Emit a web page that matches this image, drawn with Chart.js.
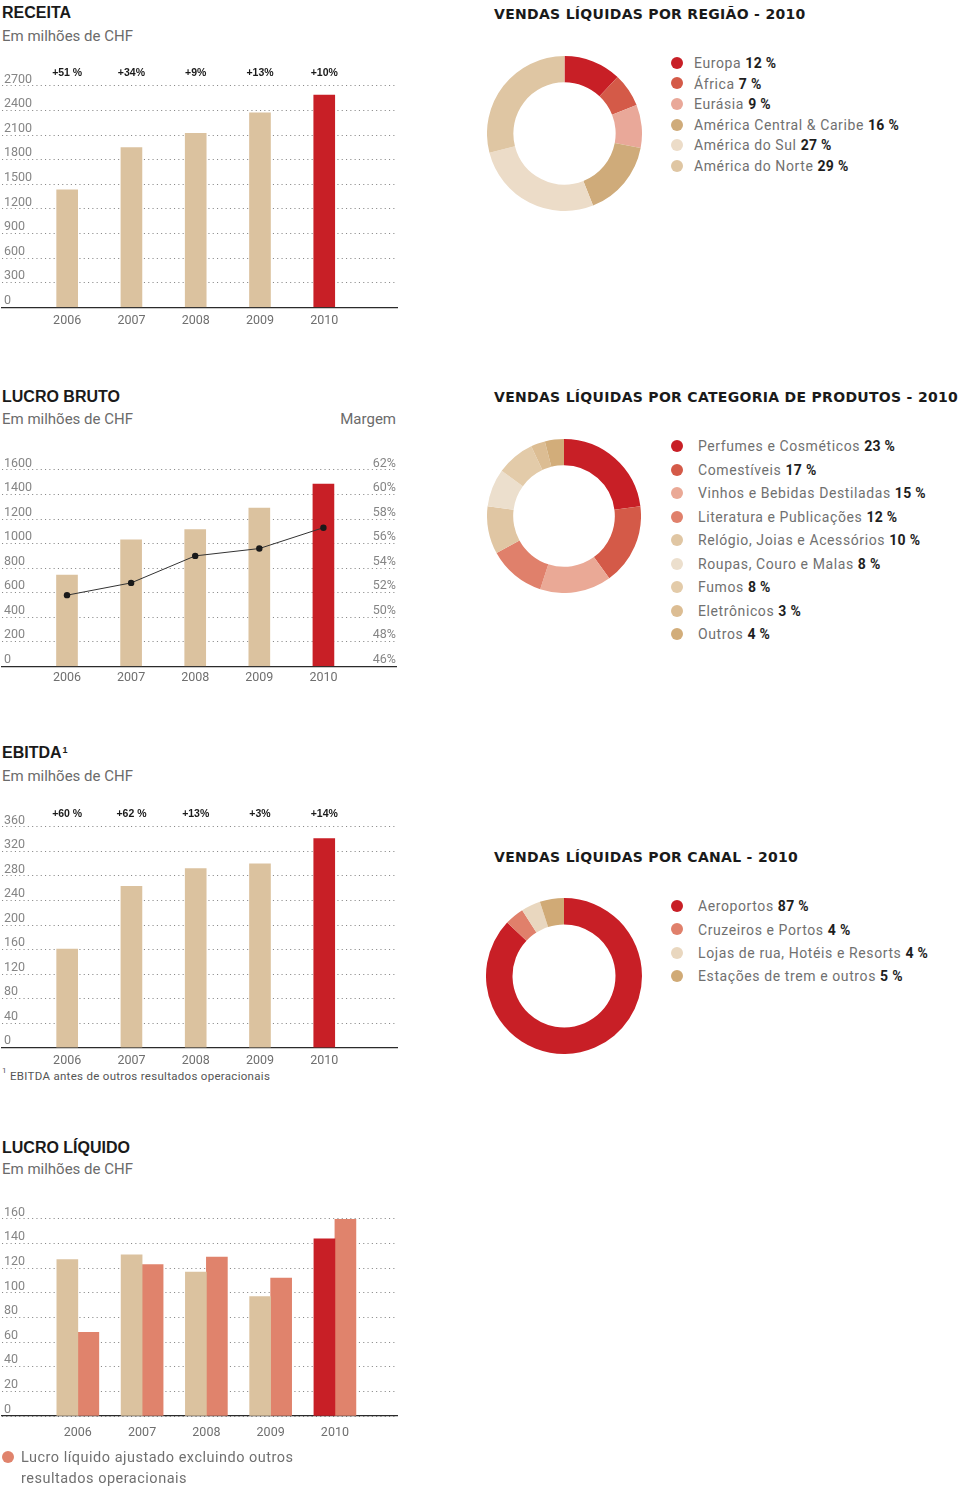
<!DOCTYPE html>
<html lang="pt">
<head>
<meta charset="utf-8">
<script src="https://cdn.jsdelivr.net/npm/chart.js@4.4.1/dist/chart.umd.min.js"></script>
<style>
html,body{margin:0;padding:0;background:#fff;}
body{position:relative;width:960px;height:1487px;overflow:hidden;font-family:Roboto,'Open Sans',sans-serif;}
.ttl{position:absolute;font-family:'Liberation Sans',Arial,sans-serif;font-weight:700;font-size:16px;line-height:16px;color:#1a1a1a;white-space:nowrap;}
.ttl2{position:absolute;font-family:'DejaVu Sans',sans-serif;font-weight:700;font-size:14px;line-height:14px;color:#1a1a1a;white-space:nowrap;letter-spacing:0.3px;}
.sub{position:absolute;font-size:15px;line-height:15px;color:#6b6b6b;letter-spacing:0px;white-space:nowrap;}
canvas{position:absolute;}
.lg{position:absolute;white-space:nowrap;font-size:14px;line-height:14px;color:#707070;letter-spacing:0.6px;}
.dot{position:absolute;width:12px;height:12px;border-radius:50%;}
.lg b{color:#1e1e1e;font-weight:700;letter-spacing:0.3px;}
.foot{position:absolute;font-size:11.5px;line-height:12px;color:#555;letter-spacing:0.3px;white-space:nowrap;}
.sup{font-size:9px;line-height:9px;position:relative;top:-5px;margin-left:1px;}
</style>
</head>
<body>
<div class="ttl" style="left:2px;top:5.3px">RECEITA</div>
<div class="sub" style="left:2px;top:28.7px">Em milhões de CHF</div>

<div class="ttl" style="left:2px;top:389px">LUCRO BRUTO</div>
<div class="sub" style="left:2px;top:411.7px">Em milhões de CHF</div>
<div class="sub" style="right:564px;top:411.7px">Margem</div>

<div class="ttl" style="left:2px;top:745.3px">EBITDA<span class="sup">1</span></div>
<div class="sub" style="left:2px;top:768.7px">Em milhões de CHF</div>
<div class="foot" style="left:2px;top:1067px;font-size:8px;line-height:8px">1</div>
<div class="foot" style="left:10px;top:1070px">EBITDA antes de outros resultados operacionais</div>

<div class="ttl" style="left:2px;top:1140.3px">LUCRO LÍQUIDO</div>
<div class="sub" style="left:2px;top:1161.7px">Em milhões de CHF</div>

<div class="ttl2" style="left:494px;top:7px">VENDAS LÍQUIDAS POR REGIÃO - 2010</div>
<div class="ttl2" style="left:494px;top:390.4px">VENDAS LÍQUIDAS POR CATEGORIA DE PRODUTOS - 2010</div>
<div class="ttl2" style="left:494px;top:850.4px">VENDAS LÍQUIDAS POR CANAL - 2010</div>

<canvas id="cReceita"></canvas>
<canvas id="cBruto"></canvas>
<canvas id="cEbitda"></canvas>
<canvas id="cLiquido"></canvas>
<canvas id="cRegiao"></canvas>
<canvas id="cCategoria"></canvas>
<canvas id="cCanal"></canvas>

<div class="dot" style="left:2.3px;top:1450.7px;background:#e0836c"></div>
<div class="lg" style="left:21px;top:1446.7px;font-size:14.5px;line-height:21px;letter-spacing:0.5px">Lucro líquido ajustado excluindo outros<br>resultados operacionais</div>

<script>
// ---------- DATA ----------
const years = [2006, 2007, 2008, 2009, 2010];

const receita = [1435, 1950, 2122, 2372, 2590];
const receitaGrowth = ['+51 %', '+34%', '+9%', '+13%', '+10%'];
const receitaTicks = [0, 300, 600, 900, 1200, 1500, 1800, 2100, 2400, 2700];

const lucroBruto = [744, 1030, 1115, 1289, 1485];
const margem = [51.8, 52.8, 55.0, 55.6, 57.3];
const lucroBrutoTicks = [0, 200, 400, 600, 800, 1000, 1200, 1400, 1600];
const margemTicks = [46, 48, 50, 52, 54, 56, 58, 60, 62];

const ebitda = [161, 263, 292, 300, 341];
const ebitdaGrowth = ['+60 %', '+62 %', '+13%', '+3%', '+14%'];
const ebitdaTicks = [0, 40, 80, 120, 160, 200, 240, 280, 320, 360];

const lucroLiquido = [127, 131, 117, 97, 144];
const lucroAjustado = [68, 123, 129, 112, 160];
const lucroLiquidoTicks = [0, 20, 40, 60, 80, 100, 120, 140, 160];

const regiaoLabels = ['Europa', 'África', 'Eurásia', 'América Central & Caribe', 'América do Sul', 'América do Norte'];
const regiaoValues = [12, 7, 9, 16, 27, 29];

const categoriaLabels = ['Perfumes e Cosméticos', 'Comestíveis', 'Vinhos e Bebidas Destiladas', 'Literatura e Publicações',
  'Relógio, Joias e Acessórios', 'Roupas, Couro e Malas', 'Fumos', 'Eletrônicos', 'Outros'];
const categoriaValues = [23, 17, 15, 12, 10, 8, 8, 3, 4];

const canalLabels = ['Aeroportos', 'Cruzeiros e Portos', 'Lojas de rua, Hotéis e Resorts', 'Estações de trem e outros'];
const canalValues = [87, 4, 4, 5];

// ---------- STYLE ----------
const BEIGE = '#dbc29f', RED = '#c81f26', SALMON = '#e0836c';
const regiaoColors = ['#c81f26', '#d45a48', '#e9a899', '#cfab7a', '#ecdcc8', '#dfc6a3'];
const categoriaColors = ['#c81f26', '#d45a48', '#eaa996', '#e0806b', '#e0c6a3', '#ecdfcd', '#e3cba9', '#dcbd93', '#d2ad7a'];
const canalColors = ['#c81f26', '#e0806b', '#e9d7bf', '#d0aa76'];
const lastRed = (base) => years.map((y, i) => i === years.length - 1 ? RED : base);

Chart.defaults.font.family = "Roboto, 'Open Sans', sans-serif";
Chart.defaults.animation = false;
Chart.defaults.responsive = false;
Chart.defaults.devicePixelRatio = 1;
Chart.defaults.plugins.legend.display = false;
Chart.defaults.plugins.tooltip.enabled = false;

const growthPlugin = {
  id: 'growth',
  afterDatasetsDraw(chart, args, opts) {
    if (!opts || !opts.labels) return;
    const ctx = chart.ctx;
    const meta = chart.getDatasetMeta(0);
    ctx.save();
    ctx.font = "bold 10.5px 'Liberation Sans', Arial, sans-serif";
    ctx.fillStyle = '#1a1a1a';
    ctx.textAlign = 'center';
    ctx.textBaseline = 'middle';
    meta.data.forEach((el, i) => ctx.fillText(opts.labels[i], el.x, chart.chartArea.top - opts.offset));
    ctx.restore();
  }
};
Chart.register(growthPlugin);

const TICK_FONT = 12.5, LH = TICK_FONT * 1.2;
const toXY = (vals) => years.map((yr, i) => ({x: yr, y: vals[i]}));

function makeBar(id, g, datasets, extraScales) {
  const cv = document.getElementById(id);
  const cTop = g.top - 30;
  const cH = Math.round(g.bottom - g.top + 70);
  cv.width = 402; cv.height = cH;
  cv.style.left = '-2px'; cv.style.top = cTop + 'px';
  cv.style.width = '402px'; cv.style.height = cH + 'px';
  const scales = {
    x: {
      type: 'linear', min: g.xMin, max: g.xMax, offset: false,
      afterBuildTicks: s => { s.ticks = years.map(v => ({value: v})); },
      ticks: {color: '#6f6f6f', font: {size: TICK_FONT}, padding: g.xPad, maxRotation: 0, autoSkip: false, callback: v => String(v)},
      grid: {drawOnChartArea: false, drawTicks: false, offset: false},
      border: {display: true, color: '#2b2b2b', width: 1.3}
    },
    y: {
      type: 'linear', position: 'left', min: 0, max: g.yTicks[g.yTicks.length - 1],
      afterBuildTicks: s => { s.ticks = g.yTicks.map(v => ({value: v})); },
      ticks: {mirror: true, padding: 2, labelOffset: -6.5, color: '#858585', font: {size: TICK_FONT}, callback: v => String(v)},
      grid: {color: '#8a8a8a', lineWidth: 1.1, drawTicks: false},
      border: {display: false, dash: [1.1, 3.2]}
    }
  };
  Object.assign(scales, extraScales || {});
  const axisH = 2 * g.xPad + LH + 0.65;
  const padBottom = (cH - (g.bottom - cTop)) - axisH;
  return new Chart(cv, {
    type: 'bar',
    data: {datasets},
    options: {
      layout: {padding: {top: 30, bottom: padBottom, left: 0, right: g.right || 3}},
      scales,
      plugins: {growth: {labels: g.growth || null, offset: 13}}
    }
  });
}

makeBar('cReceita', {top: 86, bottom: 306.7, xPad: 5.8, xMin: 2004.986, xMax: 2011.132, yTicks: receitaTicks, growth: receitaGrowth},
  [{label: 'Receita', data: toXY(receita), backgroundColor: lastRed(BEIGE), barThickness: 21, borderWidth: 0}]);

makeBar('cBruto', {top: 470, bottom: 665.7, xPad: 4, xMin: 2004.986, xMax: 2011.132, yTicks: lucroBrutoTicks, right: 4},
  [
    {type: 'line', label: 'Margem', data: toXY(margem), yAxisID: 'y1', order: 0, borderColor: '#333', borderWidth: 1,
     pointRadius: 3.2, pointBackgroundColor: '#1a1a1a', pointBorderWidth: 0, tension: 0},
    {label: 'Lucro bruto', data: toXY(lucroBruto), backgroundColor: lastRed(BEIGE), barThickness: 21, borderWidth: 0, order: 1}
  ],
  {y1: {
    type: 'linear', position: 'right', min: 46, max: 62,
    afterBuildTicks: s => { s.ticks = margemTicks.map(v => ({value: v})); },
    ticks: {mirror: true, padding: 0, labelOffset: -6.5, color: '#858585', font: {size: TICK_FONT}, callback: v => v + '%'},
    grid: {drawOnChartArea: false, drawTicks: false},
    border: {display: false}
  }});

makeBar('cEbitda', {top: 826.7, bottom: 1046.7, xPad: 5.8, xMin: 2004.986, xMax: 2011.132, yTicks: ebitdaTicks, growth: ebitdaGrowth},
  [{label: 'EBITDA', data: toXY(ebitda), backgroundColor: lastRed(BEIGE), barThickness: 21, borderWidth: 0}]);

makeBar('cLiquido', {top: 1219.3, bottom: 1415.7, xPad: 9, xMin: 2004.82, xMax: 2010.966, yTicks: lucroLiquidoTicks},
  [
    {label: 'Lucro líquido', data: toXY(lucroLiquido), backgroundColor: lastRed(BEIGE), barThickness: 21, borderWidth: 0},
    {label: 'Lucro líquido ajustado excluindo outros resultados operacionais', data: toXY(lucroAjustado), backgroundColor: SALMON, barThickness: 21, borderWidth: 0}
  ]);

function makeDonut(id, left, top, size, labels, values, colors, legend) {
  const cv = document.getElementById(id);
  cv.width = size; cv.height = size;
  cv.style.left = left + 'px'; cv.style.top = top + 'px';
  cv.style.width = size + 'px'; cv.style.height = size + 'px';
  new Chart(cv, {
    type: 'doughnut',
    data: {labels, datasets: [{data: values, backgroundColor: colors, borderWidth: 0, hoverOffset: 0, hoverBorderWidth: 0}]},
    options: {cutout: '66%', layout: {padding: 0}}
  });
  labels.forEach((lab, i) => {
    const y = legend.y0 + i * legend.step;
    const d = document.createElement('div');
    d.className = 'dot';
    d.style.left = '670.7px'; d.style.top = (y - 6) + 'px'; d.style.background = colors[i];
    document.body.appendChild(d);
    const t = document.createElement('div');
    t.className = 'lg';
    t.style.left = legend.x + 'px'; t.style.top = (y - 6.8) + 'px';
    t.textContent = lab + ' ';
    const b = document.createElement('b');
    b.textContent = values[i] + ' %';
    t.appendChild(b);
    document.body.appendChild(t);
  });
}

makeDonut('cRegiao', 487, 56, 155, regiaoLabels, regiaoValues, regiaoColors, {x: 694, y0: 62.7, step: 20.6});
makeDonut('cCategoria', 487, 439, 154, categoriaLabels, categoriaValues, categoriaColors, {x: 698, y0: 446, step: 23.5});
makeDonut('cCanal', 486, 898, 156, canalLabels, canalValues, canalColors, {x: 698, y0: 906, step: 23.4});
</script>
</body>
</html>
